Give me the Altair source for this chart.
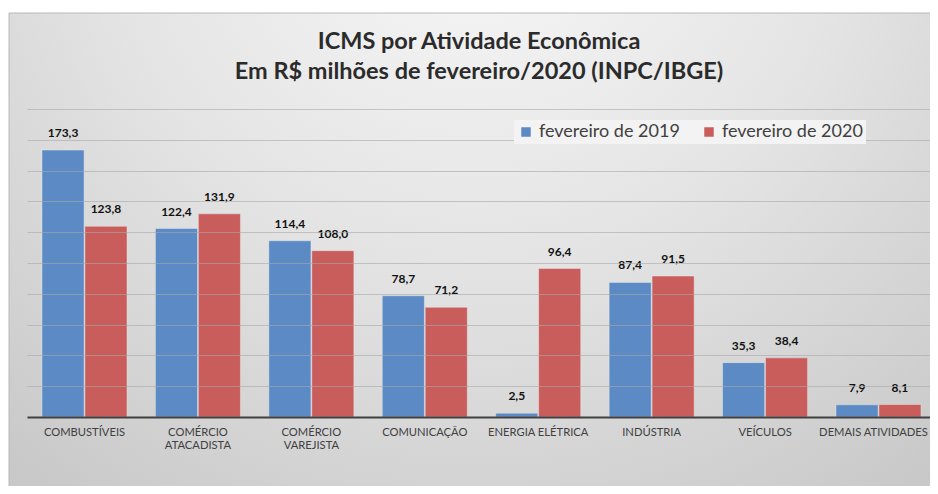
import altair as alt
import pandas as pd

categorias = ["COMBUSTÍVEIS", "COMÉRCIO ATACADISTA", "COMÉRCIO VAREJISTA", "COMUNICAÇÃO",
              "ENERGIA ELÉTRICA", "INDÚSTRIA", "VEÍCULOS", "DEMAIS ATIVIDADES"]
series = ["fevereiro de 2019", "fevereiro de 2020"]
valores_2019 = [173.3, 122.4, 114.4, 78.7, 2.5, 87.4, 35.3, 7.9]
valores_2020 = [123.8, 131.9, 108.0, 71.2, 96.4, 91.5, 38.4, 8.1]
cores = ["#5b8ac4", "#c95d5c"]
titulo = ["ICMS por Atividade Econômica", "Em R$ milhões de fevereiro/2020 (INPC/IBGE)"]

rows = []
for c, a, b in zip(categorias, valores_2019, valores_2020):
    rows.append({"cat": c, "serie": series[0], "v": a, "lbl": f"{a:.1f}".replace(".", ",")})
    rows.append({"cat": c, "serie": series[1], "v": b, "lbl": f"{b:.1f}".replace(".", ",")})
df = pd.DataFrame(rows)

W, H = 903, 308
FONT = "Lato"

bg = alt.Chart(pd.DataFrame({"a": [0]})).mark_rect(
    color=alt.RadialGradient(
        gradient="radial",
        stops=[alt.GradientStop(color="#f9f9f9", offset=0),
               alt.GradientStop(color="#e4e4e4", offset=0.5),
               alt.GradientStop(color="#c8c8c8", offset=1)],
        x1=0.5, y1=0.1, r1=0, x2=0.5, y2=0.1, r2=0.8),
    stroke="#b8b8b8", strokeWidth=1,
).encode(x=alt.value(-18), x2=alt.value(915), y=alt.value(-96), y2=alt.value(400))

title1 = alt.Chart(pd.DataFrame({"t": [titulo[0]]})).mark_text(
    font=FONT, fontSize=23.5, fontWeight="bold", color="#2b2b2b", align="center", baseline="middle"
).encode(x=alt.value(452), y=alt.value(-67), text="t:N")
title2 = alt.Chart(pd.DataFrame({"t": [titulo[1]]})).mark_text(
    font=FONT, fontSize=23.5, fontWeight="bold", color="#2b2b2b", align="center", baseline="middle"
).encode(x=alt.value(452), y=alt.value(-37), text="t:N")

xenc = alt.X("cat:N", sort=categorias,
             scale=alt.Scale(paddingInner=0.2506, paddingOuter=0.1058, align=0.625),
             axis=alt.Axis(title=None, labelAngle=0, labelFont=FONT, labelFontSize=11.2,
                           labelColor="#404040", labelPadding=9, ticks=False,
                           domainColor="#404040", domainWidth=2, zindex=2,
                           labelOffset={"condition": {"test": "datum.label == 'DEMAIS ATIVIDADES'",
                                                      "value": -5}, "value": 0},
                           labelExpr="indexof(datum.label,'COMÉRCIO')==0 ? split(datum.label,' ') : datum.label"))
yenc = alt.Y("v:Q", scale=alt.Scale(domain=[0, 200]),
             axis=alt.Axis(title=None, labels=False, ticks=False, domain=False, zindex=1,
                           values=list(range(0, 201, 20)), gridColor="#a8a8a8",
                           gridOpacity=0.6, gridWidth=1))

base = alt.Chart(df).encode(
    x=xenc,
    xOffset=alt.XOffset("serie:N", sort=series, scale=alt.Scale(paddingInner=0.02, paddingOuter=0)),
    y=yenc,
)

bars = base.mark_bar(stroke="#eeeeee", strokeWidth=0.6, strokeOpacity=0.7).encode(
    color=alt.Color("serie:N", sort=series, scale=alt.Scale(domain=series, range=cores),
                    legend=alt.Legend(title=None, orient="none", legendX=487, legendY=11,
                                      direction="horizontal", symbolType="square",
                                      symbolSize=90, symbolStrokeWidth=0,
                                      labelFont=FONT, labelFontSize=18, labelColor="#404040",
                                      columnPadding=20, fillColor="#f3f3f3", padding=3,
                                      zindex=3))
)

labels = base.mark_text(font=FONT, fontSize=12, fontWeight="bold", color="#111111",
                        baseline="middle", dy=-17).encode(text="lbl:N")

chart = alt.layer(bg, title1, title2, bars, labels).properties(
    width=W, height=H,
    autosize=alt.AutoSizeParams(type="none"),
    padding={"left": 19, "top": 101, "right": 0, "bottom": 69},
).configure(background="white").configure_view(stroke=None)

chart.save("out.html", embed_options={"renderer": "svg", "actions": False})
